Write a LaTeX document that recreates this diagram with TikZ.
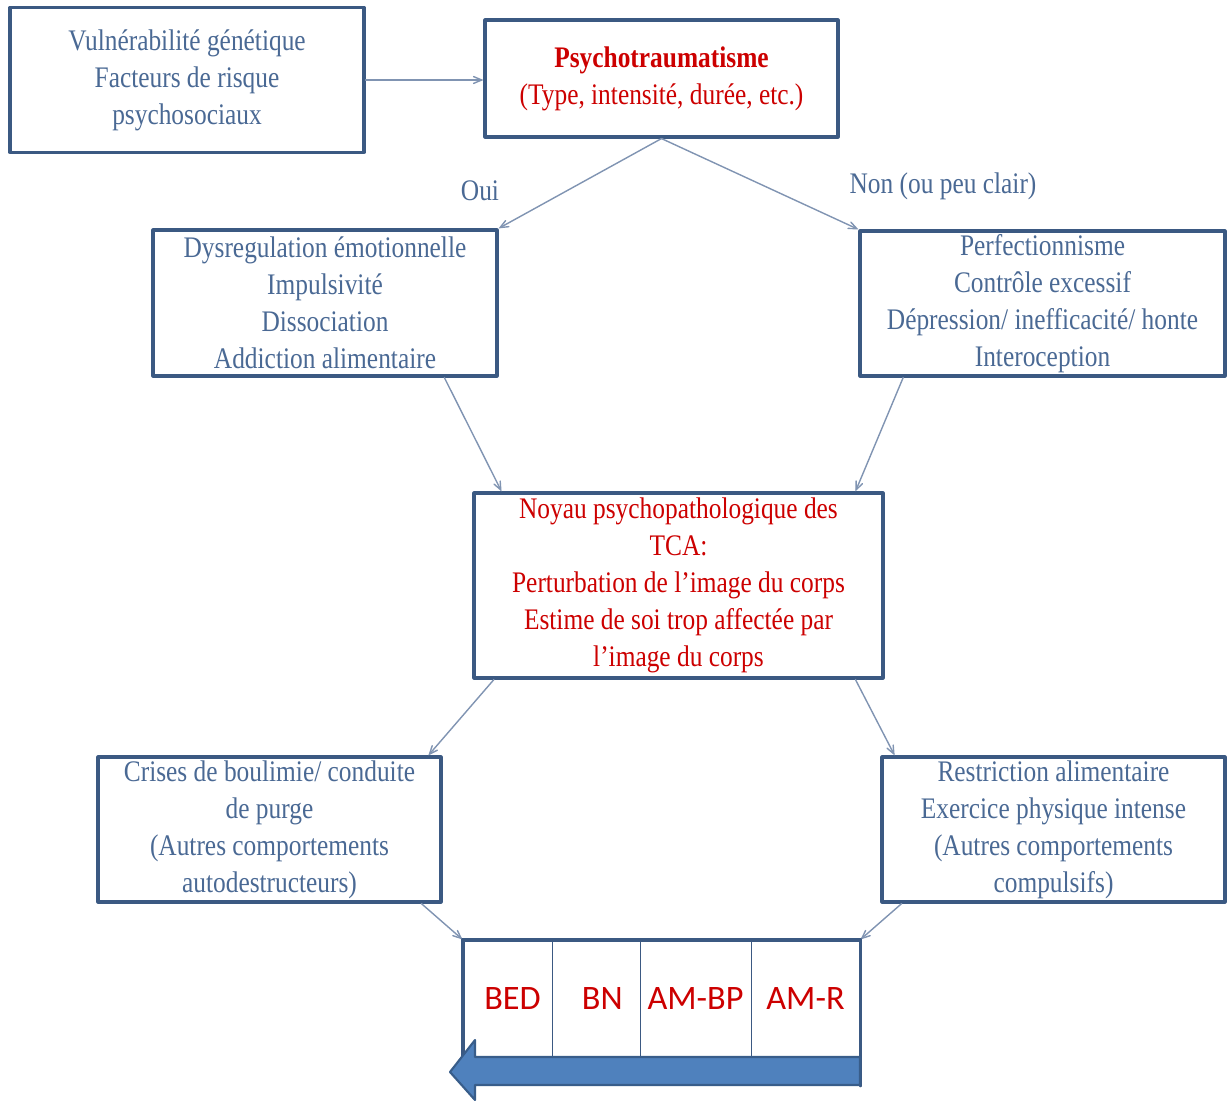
\documentclass[tikz,border=0pt]{standalone}
\usepackage{fontspec}
\setmainfont{Liberation Serif}[FakeStretch=0.85]
\newfontfamily\tabfont{Carlito}
\usetikzlibrary{arrows}
\definecolor{ttwwzz}{rgb}{0.23,0.35,0.51}
\definecolor{wwxxzz}{rgb}{0.29,0.41,0.58}
\definecolor{ccqqqq}{rgb}{0.8,0.0,0.0}
\definecolor{zzxxcc}{rgb}{0.5,0.58,0.7}
\definecolor{qqzzcc}{rgb}{0.31,0.506,0.741}
\definecolor{qqwwtt}{rgb}{0.22,0.365,0.54}

\begin{document}
\begin{tikzpicture}[line cap=round,line join=round,>=angle 45,x=0.02cm,y=-0.02cm,
  boite/.style={draw=ttwwzz,line width=1.8pt,text=wwxxzz,align=center,inner sep=0pt,font=\fontsize{17}{21}\selectfont},
  fleche/.style={->,color=zzxxcc,line width=0.8pt},
  etiq/.style={text=wwxxzz,font=\fontsize{17}{21}\selectfont},
  case/.style={draw=ttwwzz,line width=0.5pt,text=ccqqqq,inner sep=0pt,minimum height=2.34cm,font=\tabfont\fontsize{19.5}{24}\selectfont}]
\useasboundingbox (0,0) rectangle (1227,1101);
% boites
\node[boite,minimum width=7.08cm,minimum height=2.9cm] (vuln) at (187,80) {Vulnérabilité génétique\\Facteurs de risque\\psychosociaux};
\node[boite,minimum width=7.06cm,minimum height=2.34cm] (psy) at (661.5,78.5) {\textcolor{ccqqqq}{\textbf{Psychotraumatisme}}\\\textcolor{ccqqqq}{(Type, intensité, durée, etc.)}};
\node[boite,minimum width=6.88cm,minimum height=2.92cm] (dys) at (325,303) {Dysregulation émotionnelle\\Impulsivité\\Dissociation\\Addiction alimentaire};
\node[boite,minimum width=7.3cm,minimum height=2.9cm] (perf) at (1042.5,303.5) {Perfectionnisme\\Contrôle excessif\\Dépression/ inefficacité/ honte\\Interoception};
\node[boite,text=ccqqqq,minimum width=8.18cm,minimum height=3.7cm] (noyau) at (678.5,585.5) {Noyau psychopathologique des\\TCA:\\Perturbation de l’image du corps\\Estime de soi trop affectée par\\l’image du corps};
\node[boite,minimum width=6.86cm,minimum height=2.9cm] (crise) at (269.5,829.5) {Crises de boulimie/ conduite\\de purge\\(Autres comportements\\autodestructeurs)};
\node[boite,minimum width=6.86cm,minimum height=2.9cm] (restr) at (1053.5,829.5) {Restriction alimentaire\\Exercice physique intense\\(Autres comportements\\compulsifs)};
% etiquettes
\node[etiq] (oui) at (480,191) {Oui};
\node[etiq] (non) at (943,186) {Non (ou peu clair)};
% fleches
\draw[fleche] (vuln.east) -- (vuln.east -| psy.west);
\draw[fleche] (psy.south) -- (dys.north east);
\draw[fleche] (psy.south) -- (perf.north west);
\draw[fleche] (dys.-32) -- (noyau.152);
\draw[fleche] (perf.-152) -- (noyau.28);
\draw[fleche] (noyau.-153) -- (crise.25);
\draw[fleche] (noyau.-28) -- (restr.155);
% tableau
\node[case,minimum width=1.78cm] (bed) at (507.5,998.5) {\hspace{0.2cm}BED};
\node[case,minimum width=1.76cm] (bn) at (596,998.5) {\hspace{0.25cm}BN};
\node[case,minimum width=2.22cm] (ambp) at (695.5,998.5) {AM-BP};
\node[case,minimum width=2.18cm] (amr) at (805.5,998.5) {AM-R\hspace{0.15cm}};
\draw[fleche] (crise.-26) -- (bed.north west);
\draw[fleche] (restr.-154) -- (amr.north east);
\draw[ttwwzz,line width=2.2pt] (bed.south west) -- (bed.north west) -- (amr.north east) -- ([yshift=-0.56cm]amr.south east);
\fill[qqzzcc,draw=qqwwtt,line width=1.2pt] (860,1057) -- (475,1057) -- (475,1040) -- (450,1072) -- (475,1100) -- (475,1085) -- (860,1085) -- cycle;
\end{tikzpicture}
\end{document}
